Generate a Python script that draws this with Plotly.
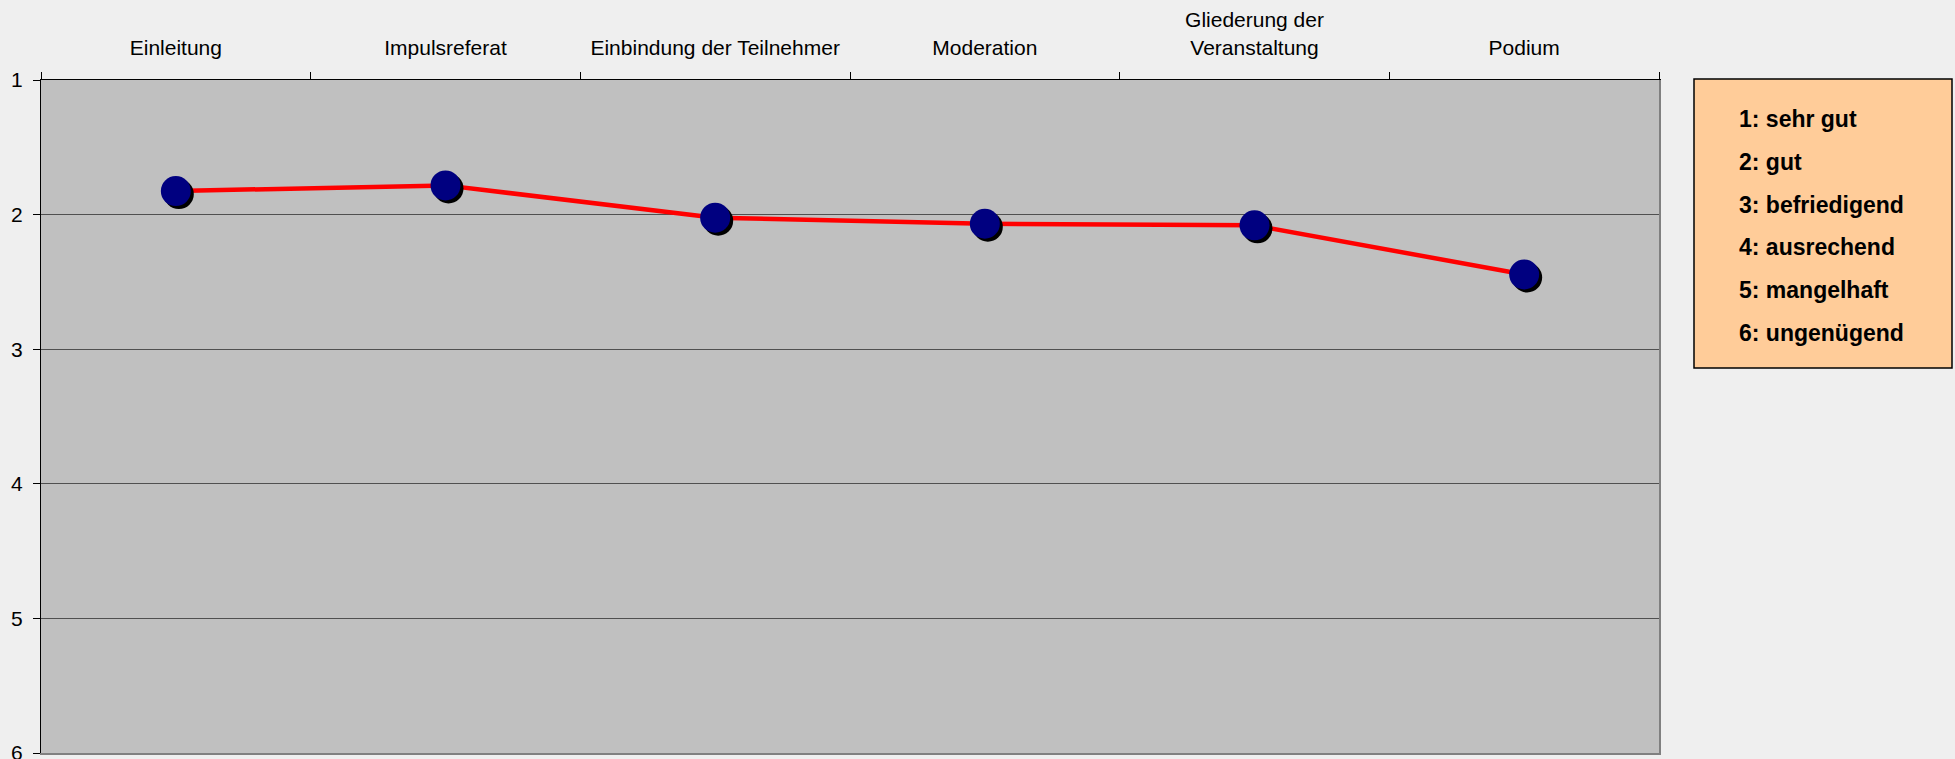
import plotly.graph_objects as go

# ---- data ----
categories = ["Einleitung", "Impulsreferat", "Einbindung der Teilnehmer", "Moderation",
              "Gliederung der<br>Veranstaltung", "Podium"]
scores = [1.825, 1.783, 2.023, 2.068, 2.080, 2.445]
y_ticks = [1, 2, 3, 4, 5, 6]
scale_labels = ["1: sehr gut", "2: gut", "3: befriedigend", "4: ausrechend",
                "5: mangelhaft", "6: ungenügend"]

# ---- layout geometry (pixels) ----
W, H = 1955, 759
L, R, T, B = 41, 296, 80, 6
pw = W - L - R
ph = H - T - B
SH = 3  # shadow offset px
dx = 6.0 / pw * SH
dy = 5.0 / ph * SH

FONT = "Liberation Sans, Arial, sans-serif"


def px_x(x):
    return (x - L) / pw


def px_y(y):
    return (H - B - y) / ph


fig = go.Figure()
fig.add_trace(go.Scatter(x=categories, y=scores, mode="lines",
                         line=dict(color="#FF0000", width=4.5),
                         xaxis="x", yaxis="y", hoverinfo="skip"))
fig.add_trace(go.Scatter(x=categories, y=scores, mode="markers",
                         marker=dict(color="#000000", size=30, line=dict(width=0)),
                         xaxis="x2", yaxis="y2", hoverinfo="skip"))
fig.add_trace(go.Scatter(x=categories, y=scores, mode="markers",
                         marker=dict(color="#000080", size=30, line=dict(width=0)),
                         xaxis="x3", yaxis="y3"))

fig.update_layout(
    width=W, height=H,
    margin=dict(l=L, r=R, t=T, b=B, autoexpand=False),
    paper_bgcolor="#EFEFEF",
    plot_bgcolor="#C0C0C0",
    showlegend=False,
    font=dict(family=FONT, color="#000000"),
    xaxis=dict(type="category", categoryorder="array", categoryarray=categories,
               range=[-0.5, len(categories) - 0.5], side="top",
               showline=True, linecolor="#000000", linewidth=1,
               ticks="outside", ticklen=7, tickcolor="#000000", tickwidth=1,
               tickson="boundaries", showgrid=False, zeroline=False,
               ticklabelstandoff=16, automargin=False,
               tickfont=dict(size=21, family=FONT, color="#000000")),
    yaxis=dict(range=[6, 1], tickmode="array", tickvals=y_ticks,
               showline=True, linecolor="#000000", linewidth=1,
               ticks="outside", ticklen=7, tickcolor="#000000",
               showgrid=True, gridcolor="#505050", gridwidth=1, zeroline=False,
               ticklabelstandoff=6, ticklabeloverflow="allow", automargin=False,
               tickfont=dict(size=21, family=FONT, color="#000000")),
    xaxis2=dict(type="category", categoryorder="array", categoryarray=categories,
                overlaying="x", anchor="y2", automargin=False,
                range=[-0.5 - dx, len(categories) - 0.5 - dx], side="bottom",
                showline=True, linecolor="#808080", linewidth=2,
                showticklabels=False, ticks="", showgrid=False, zeroline=False),
    yaxis2=dict(overlaying="y", anchor="x2", range=[6 - dy, 1 - dy], side="right",
                showline=True, linecolor="#808080", linewidth=2, automargin=False,
                showticklabels=False, ticks="", showgrid=False, zeroline=False),
    xaxis3=dict(type="category", categoryorder="array", categoryarray=categories,
                overlaying="x", anchor="y3", visible=False, automargin=False,
                range=[-0.5, len(categories) - 0.5]),
    yaxis3=dict(overlaying="y", anchor="x3", visible=False, range=[6, 1],
                automargin=False),
)

# scale box
fig.add_shape(type="rect", xref="paper", yref="paper",
              x0=px_x(1694), x1=px_x(1952), y0=px_y(368), y1=px_y(79),
              fillcolor="#FFCC99", line=dict(color="#000000", width=1.5),
              layer="above")
for i, lab in enumerate(scale_labels):
    fig.add_annotation(xref="paper", yref="paper",
                       x=px_x(1737), y=px_y(119 + i * 42.8),
                       xanchor="left", yanchor="middle", showarrow=False,
                       text="<b>" + lab + "</b>",
                       font=dict(size=23, family=FONT, color="#000000"))

fig.write_html("out.html")
